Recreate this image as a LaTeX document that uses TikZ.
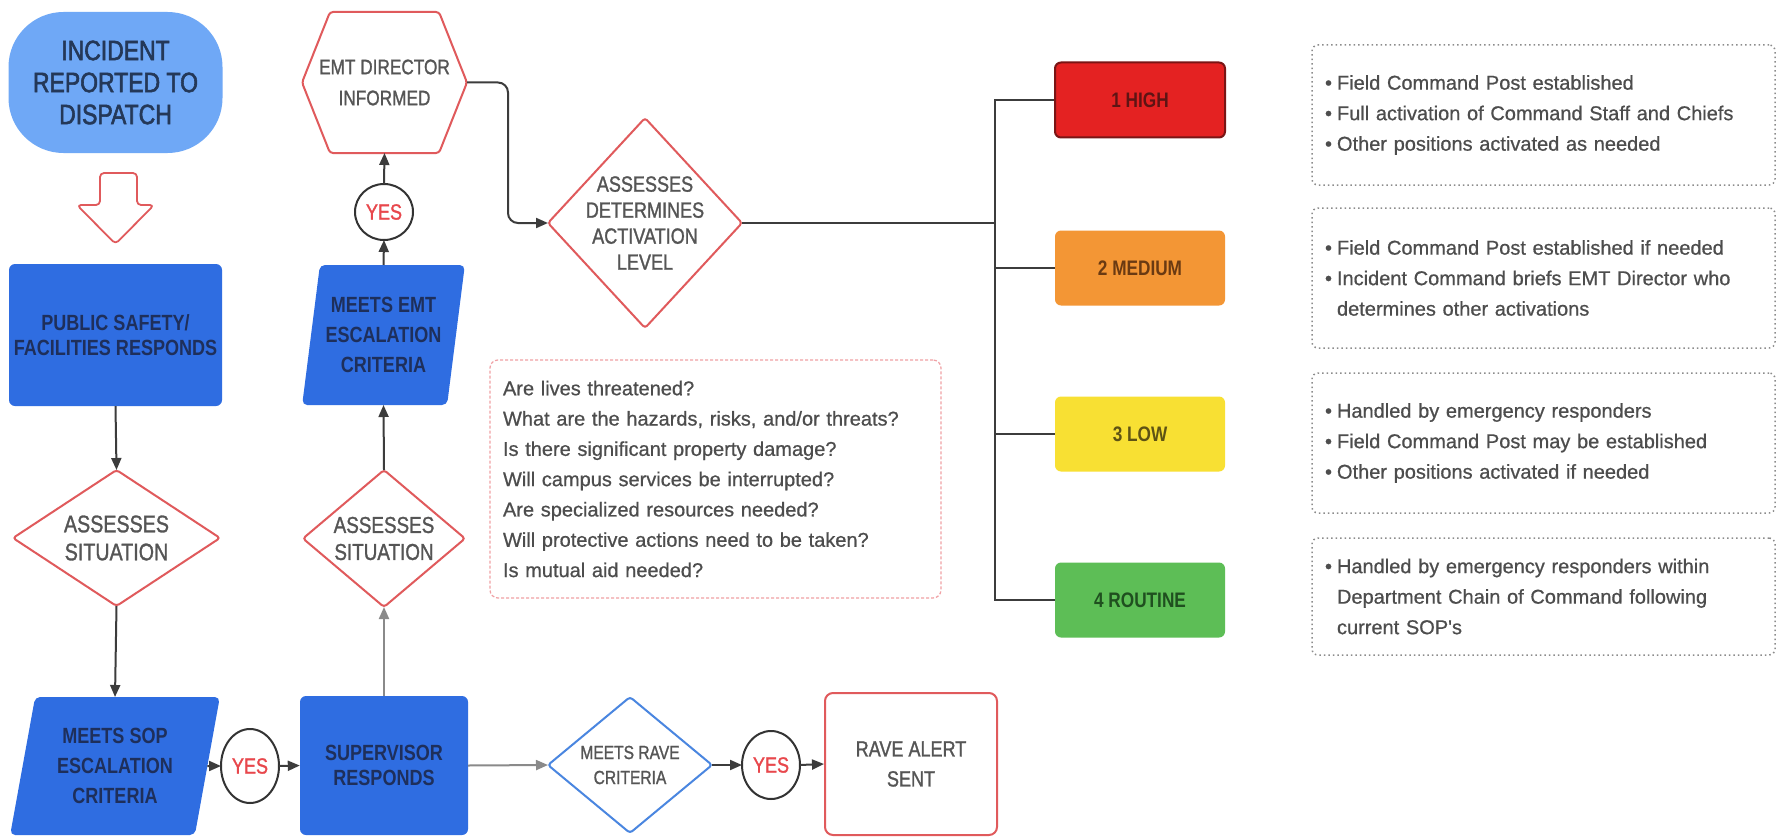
\documentclass[tikz,border=0pt]{standalone}
\usepackage{fontspec}
\setmainfont{Liberation Sans}
\newfontfamily\cond[FakeStretch=0.82]{Liberation Sans}
\newfontfamily\condm[FakeStretch=0.82,FakeBold=1.2]{Liberation Sans}
\newfontfamily\condh[FakeStretch=0.82,FakeBold=2]{Liberation Sans}
\newfontfamily\bodym[FakeBold=0.7]{Liberation Sans}
\usetikzlibrary{shapes.geometric,arrows.meta}
\definecolor{navy}{HTML}{1E2F5B}
\definecolor{navyl}{HTML}{243858}
\definecolor{lblue}{HTML}{6FA8F6}
\definecolor{rblue}{HTML}{2F6DE1}
\definecolor{redl}{HTML}{E05A5C}
\definecolor{grayt}{HTML}{555555}
\definecolor{yesred}{HTML}{E8474C}
\definecolor{arrowc}{HTML}{3C3C3C}
\definecolor{arrowl}{HTML}{8A8A8A}
\definecolor{raveblue}{HTML}{4A86E0}
\definecolor{hi}{HTML}{E42222}
\definecolor{hib}{HTML}{7A1515}
\definecolor{hit}{HTML}{5E1414}
\definecolor{med}{HTML}{F39635}
\definecolor{medt}{HTML}{6A3A12}
\definecolor{low}{HTML}{F8E033}
\definecolor{lowt}{HTML}{5E5314}
\definecolor{rout}{HTML}{5DBE56}
\definecolor{routt}{HTML}{1F4F1F}
\definecolor{dotc}{HTML}{8C8C8C}
\definecolor{qred}{HTML}{F0A0A4}
\definecolor{bodyt}{HTML}{4D4D4D}
\newcommand\bul{\makebox[12pt][l]{\textbullet}}
\newcommand\cont{\hspace*{12pt}}
\begin{document}
\begin{tikzpicture}[x=1pt,y=-1pt,
  fsz/.style 2 args={font=\condm\fontsize{#1}{#2}\selectfont},
  glbl/.style={align=center,text=grayt},
  blbl/.style={align=center,text=navy,font=\cond\bfseries\fontsize{22}{30}\selectfont},
  arr/.style={draw=arrowc,line width=2pt,-{Triangle[length=12pt,width=10pt]}},
  arrl/.style={arr,draw=arrowl},
  redline/.style={draw=redl,line width=2pt},
  dia/.style={diamond,draw=redl,line width=2pt,inner sep=0pt,outer sep=0pt,rounded corners=3pt},
  yesc/.style={ellipse,draw=black!80,line width=2pt,inner sep=0pt,outer sep=0pt,text=yesred,
     font=\condm\fontsize{22}{22}\selectfont,minimum width=58pt},
  para/.style={trapezium,trapezium stretches=true,fill=rblue,rounded corners=5pt,inner sep=0pt,outer sep=0pt},
  lvl/.style={rectangle,rounded corners=6pt,minimum width=170pt,minimum height=75pt,
     font=\cond\bfseries\fontsize{21}{21}\selectfont},
  bbox/.style={rectangle,draw=dotc,line width=1.5pt,dash pattern=on 1.5pt off 3pt,rounded corners=6pt,
     minimum width=463pt,text width=437pt,inner xsep=13pt,align=left,text=bodyt,
     font=\bodym\fontsize{20}{30.5}\selectfont}
]
\useasboundingbox (0,0) rectangle (1777,840);
\fill[white] (0,0) rectangle (1777,840);

% left column
\node[fill=lblue,rounded corners=55pt,minimum width=214pt,minimum height=141pt,align=center,
  text=navyl,font=\condh\fontsize{28}{32}\selectfont] (inc) at (115.5,82.5) {INCIDENT\\REPORTED TO\\DISPATCH};
\draw[redline,line width=1.8pt,rounded corners=4pt,line join=round]
  (100,173) -- (137,173) -- (137,205) -- (154,205) -- (115.5,244) -- (77,205) -- (100,205) -- cycle;
\node[fill=rblue,rounded corners=6pt,minimum width=213pt,minimum height=142pt,blbl,
  font=\cond\bfseries\fontsize{22}{25}\selectfont] (ps) at (115.5,335) {PUBLIC SAFETY/\\FACILITIES RESPONDS};
\node[dia,minimum width=207pt,minimum height=136pt,
  label={[glbl,fsz={24}{28}]center:ASSESSES\\SITUATION}] (d1) at (116.5,538) {};
\node[para,trapezium left angle=76.5,trapezium right angle=103.5,minimum width=210pt,minimum height=138pt,
  blbl] (sop) at (115,766) {MEETS SOP\\ESCALATION\\CRITERIA};
\node[yesc,minimum height=74pt] (yes1) at (250,766) {YES};
\node[fill=rblue,rounded corners=6pt,minimum width=168pt,minimum height=139pt,blbl,
  font=\cond\bfseries\fontsize{22}{25}\selectfont] (sup) at (384,765.5) {SUPERVISOR\\RESPONDS};

% second column
\node[dia,minimum width=162pt,minimum height=137pt,
  label={[glbl,fsz={23}{27}]center:ASSESSES\\SITUATION}] (d2) at (384,538.5) {};
\node[para,trapezium left angle=77.9,trapezium right angle=102.1,minimum width=163pt,minimum height=140pt,
  blbl] (par) at (383.5,335) {MEETS EMT\\ESCALATION\\CRITERIA};
\node[yesc,minimum height=56pt] (yes2) at (384,212) {YES};
\node[minimum width=165pt,minimum height=141pt,inner sep=0pt,outer sep=0pt,glbl,fsz={21}{31}]
  (hex) at (384.5,82.5) {EMT DIRECTOR\\INFORMED};
\draw[redline,rounded corners=3pt] (hex.west) -- ([xshift=28pt]hex.north west) -- ([xshift=-28pt]hex.north east)
  -- (hex.east) -- ([xshift=-28pt]hex.south east) -- ([xshift=28pt]hex.south west) -- cycle;

% activation diamond
\node[dia,minimum width=194pt,minimum height=210pt,
  label={[glbl,fsz={22}{26}]center:ASSESSES\\DETERMINES\\ACTIVATION\\LEVEL}] (d3) at (645,223) {};

% questions
\node[rectangle,draw=qred,line width=1.2pt,dash pattern=on 3pt off 2pt,rounded corners=8pt,
  minimum width=451pt,minimum height=238pt,text width=425pt,inner xsep=13pt,align=left,text=bodyt,
  font=\bodym\fontsize{20}{30.3}\selectfont] (q) at (715.5,479)
  {Are lives threatened?\\What are the hazards, risks, and/or threats?\\Is there significant property damage?\\Will campus services be interrupted?\\Are specialized resources needed?\\Will protective actions need to be taken?\\Is mutual aid needed?};

% rave row
\node[diamond,draw=raveblue,line width=2pt,inner sep=0pt,outer sep=0pt,rounded corners=3pt,
  minimum width=164pt,minimum height=136pt,
  label={[glbl,fsz={19}{25}]center:MEETS RAVE\\CRITERIA}] (rave) at (630,765) {};
\node[yesc,minimum height=68pt] (yes3) at (771,765) {YES};
\node[draw=redl,line width=2pt,rounded corners=8pt,minimum width=172pt,minimum height=142pt,
  glbl,fsz={22}{30}] (rbox) at (911,764) {RAVE ALERT\\SENT};

% levels
\node[lvl,fill=hi,draw=hib,line width=2pt,text=hit] (high) at (1140,100) {1 HIGH};
\node[lvl,fill=med,text=medt] (medium) at (1140,268) {2 MEDIUM};
\node[lvl,fill=low,text=lowt] (lowl) at (1140,434) {3 LOW};
\node[lvl,fill=rout,text=routt] (routine) at (1140,600) {4 ROUTINE};
\coordinate (spine) at (995,0);

% bullet boxes
\node[bbox,minimum height=140pt] (ba) at (1543.5,115)
  {\bul Field Command Post established\\\bul Full activation of Command Staff and Chiefs\\\bul Other positions activated as needed};
\node[bbox,minimum height=140pt] (bb) at (1543.5,278)
  {\bul Field Command Post established if needed\\\bul Incident Command briefs EMT Director who\\\cont determines other activations};
\node[bbox,minimum height=140pt] (bc) at (1543.5,443)
  {\bul Handled by emergency responders\\\bul Field Command Post may be established\\\bul Other positions activated if needed};
\node[bbox,minimum height=117pt] (bd) at (1543.5,596.5)
  {\bul Handled by emergency responders within\\\cont Department Chain of Command following\\\cont current SOP's};

% connectors
\draw[arr] (ps.south) -- (d1.north);
\draw[arr] (d1.south) -- (sop.north);
\draw[arr] (sop.east) -- (yes1.west);
\draw[arr] (yes1.east) -- (sup.west);
\draw[arrl] (sup.north) -- (d2.south);
\draw[arr] (d2.north) -- (par.south);
\draw[arr] (par.north) -- (yes2.south);
\draw[arr] (yes2.north) -- (hex.south);
\draw[arr,rounded corners=10pt] (hex.east) -- ++(41,0) |- (d3.west);
\draw[arrl] (sup.east) -- (rave.west);
\draw[arr] (rave.east) -- (yes3.west);
\draw[arr] (yes3.east) -- (rbox.west);
\draw[draw=arrowc,line width=2pt] (d3.east) -- (d3.east -| spine);
\draw[draw=arrowc,line width=2pt] (high.west) -- (high.west -| spine) -- (routine.west -| spine) -- (routine.west);
\draw[draw=arrowc,line width=2pt] (medium.west) -- (medium.west -| spine);
\draw[draw=arrowc,line width=2pt] (lowl.west) -- (lowl.west -| spine);
\end{tikzpicture}
\end{document}
